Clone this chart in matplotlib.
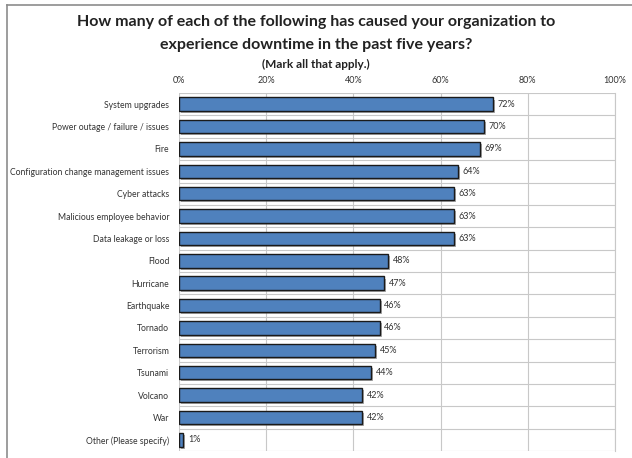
import matplotlib
matplotlib.use("Agg")
import matplotlib.pyplot as plt
import matplotlib.patheffects as pe
from matplotlib.ticker import FuncFormatter

categories = [
    "System upgrades",
    "Power outage / failure / issues",
    "Fire",
    "Configuration change management issues",
    "Cyber attacks",
    "Malicious employee behavior",
    "Data leakage or loss",
    "Flood",
    "Hurricane",
    "Earthquake",
    "Tornado",
    "Terrorism",
    "Tsunami",
    "Volcano",
    "War",
    "Other (Please specify)",
]
percent = [72, 70, 69, 64, 63, 63, 63, 48, 47, 46, 46, 45, 44, 42, 42, 1]
xticks = [0, 20, 40, 60, 80, 100]

plt.rcParams["font.family"] = ["Lato", "DejaVu Sans"]

fig = plt.figure(figsize=(6.32, 4.58), dpi=100)
W, H = 632, 458

# outer frame of the chart area (top and left edges)
fig.add_artist(plt.Line2D([7 / W, 1], [1 - 5 / H, 1 - 5 / H], color="#8c8c8c", lw=1.2))
fig.add_artist(plt.Line2D([7 / W, 7 / W], [0, 1 - 5 / H], color="#8c8c8c", lw=1.2))

ax = fig.add_axes([179 / W, 1 - 451 / H, (615 - 179) / W, (451 - 93) / H])

n = len(categories)
ypos = list(range(n))
bars = ax.barh(ypos, percent, height=0.6, color="#4f81bd", edgecolor="#1a1a1a",
               linewidth=1.0, zorder=3)
for b in bars:
    b.set_path_effects([pe.SimplePatchShadow(offset=(1.5, -1.5), shadow_rgbFace="#555555", alpha=0.5),
                        pe.Normal()])

for y, v in zip(ypos, percent):
    ax.text(v + 1.1, y, f"{v}%", va="center", ha="left", fontsize=6.5, color="#333333")

ax.set_xlim(0, 100)
ax.set_ylim(n - 0.5, -0.5)
ax.set_xticks(xticks)
ax.xaxis.set_major_formatter(FuncFormatter(lambda x, _: f"{x:.0f}%"))
ax.xaxis.tick_top()
ax.set_yticks(ypos)
ax.set_yticklabels(categories)
ax.set_yticks([i + 0.5 for i in range(-1, n)], minor=True)
ax.tick_params(axis="both", which="both", length=0, labelsize=6.5, colors="#333333")
ax.tick_params(axis="y", labelsize=6.2, pad=7)
ax.tick_params(axis="x", pad=6)

ax.grid(axis="x", color="#c8c8c8", lw=0.8, zorder=0)
ax.grid(axis="y", which="minor", color="#c8c8c8", lw=0.8, zorder=0)
for s in ax.spines.values():
    s.set_visible(False)
ax.spines["right"].set_visible(True)
ax.spines["right"].set_color("#c8c8c8")

fig.text(316 / W, 1 - 22 / H, "How many of each of the following has caused your organization to",
         ha="center", va="center", fontsize=11.5, fontweight="bold", color="#222222")
fig.text(316 / W, 1 - 45 / H, "experience downtime in the past five years?",
         ha="center", va="center", fontsize=11.5, fontweight="bold", color="#222222")
fig.text(316 / W, 1 - 64 / H, "(Mark all that apply.)",
         ha="center", va="center", fontsize=8.5, fontweight="bold", color="#222222")

fig.savefig("out.png", dpi=100)
